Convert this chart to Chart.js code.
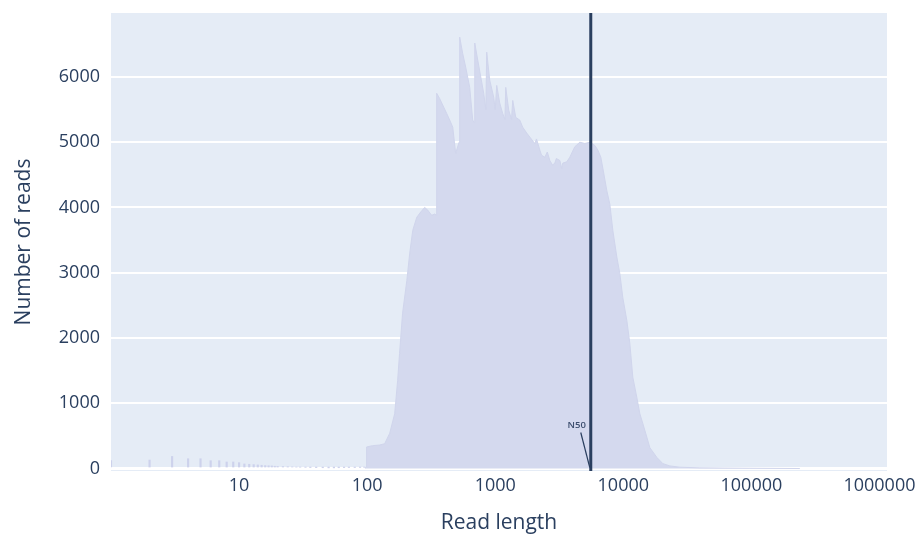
<!DOCTYPE html>
<html>
<head>
<meta charset="utf-8">
<script src="https://cdn.jsdelivr.net/npm/chart.js@4"></script>
<style>
  html, body { margin: 0; padding: 0; background: #fff; }
  #wrap { width: 920px; height: 534px; }
</style>
</head>
<body>
<div id="wrap"><canvas id="readChart" width="920" height="534"></canvas></div>
<script>
// read length histogram
const shortLengths = [1, 2, 3, 4, 5, 6, 7, 8, 9, 10, 11, 12, 13, 14, 15, 16, 17, 18, 19, 20,
  22, 24, 26, 28, 30, 33, 36, 40, 45, 50, 55, 60, 66, 72, 80, 88, 95];
const shortCounts = [120, 130, 185, 150, 150, 120, 120, 100, 100, 90, 70, 65, 60, 55, 50, 45, 42, 40, 35, 32,
  30, 28, 25, 22, 20, 18, 15, 14, 12, 10, 10, 12, 14, 15, 15, 16, 18];

const readLengths = [96, 98.5, 99, 110, 125, 137, 150, 164, 173, 179, 189, 204, 215, 227, 244, 262, 281, 297, 319, 337, 347,
  349, 368, 389, 418, 441, 466, 491, 522, 528, 557, 588, 632, 667, 685, 692, 730, 771, 813, 845, 858, 906, 973,
  1000, 1027, 1084, 1144, 1190, 1208, 1275, 1340, 1370, 1446, 1553, 1639, 1762, 1860, 2036, 2100, 2229, 2300,
  2439, 2550, 2669, 2800, 2921, 3000, 3196, 3300, 3368, 3620, 3820, 4180, 4575, 5006, 5478, 5995, 6325, 6674,
  7042, 7430, 7850, 8280, 8900, 9390, 9910, 10650, 11240, 11860, 12750, 13460, 14200, 15270, 16110, 18280,
  20370, 23080, 27630, 39630, 97300, 239000];
const readCounts = [12, 15, 330, 350, 360, 380, 540, 840, 1350, 1760, 2380, 2880, 3300, 3650, 3850, 3930, 4000, 3960, 3880, 3900, 3880,
  5750, 5670, 5570, 5440, 5340, 5230, 4830, 5000, 6610, 6360, 6150, 5840, 5340, 5300, 6520, 6260, 6000, 5750, 5500, 6380, 5950, 5690,
  5500, 5870, 5600, 5440, 5350, 5840, 5490, 5350, 5640, 5380, 5340, 5230, 5140, 5080, 4980, 5050, 4880, 4800,
  4770, 4850, 4720, 4650, 4680, 4750, 4720, 4600, 4680, 4700, 4770, 4930, 5000, 4980, 5000, 4950, 4880, 4770,
  4520, 4260, 4050, 3650, 3240, 2990, 2620, 2270, 1920, 1400, 1090, 840, 690, 480, 320, 170,
  75, 40, 20, 10, 4, 0];

const n50 = 5570;
const xTicks = [10, 100, 1000, 10000, 100000, 1000000];
const yTicks = [0, 1000, 2000, 3000, 4000, 5000, 6000];

const textColor = "#2a3f5f";

const plotBg = {
  id: "plotBg",
  beforeDraw(chart) {
    const { ctx, chartArea: a } = chart;
    ctx.save();
    ctx.fillStyle = "#E5ECF6";
    ctx.fillRect(a.left, a.top, a.right - a.left, a.bottom - a.top);
    ctx.restore();
  }
};

// vertical N50 marker with its small annotation
const n50Marker = {
  id: "n50Marker",
  afterDatasetsDraw(chart) {
    const { ctx, chartArea: a, scales } = chart;
    const px = scales.x.getPixelForValue(n50);
    const py = scales.y.getPixelForValue(0);
    ctx.save();
    ctx.strokeStyle = "#2a3f5f";
    ctx.lineWidth = 3;
    ctx.beginPath();
    ctx.moveTo(px, a.top);
    ctx.lineTo(px, a.bottom);
    ctx.stroke();

    ctx.lineWidth = 1.2;
    ctx.beginPath();
    ctx.moveTo(px - 10, py - 36);
    ctx.lineTo(px - 1, py - 1);
    ctx.stroke();

    ctx.fillStyle = "#3c4e6e";
    ctx.font = "600 9.5px 'Open Sans'";
    ctx.textAlign = "center";
    ctx.textBaseline = "middle";
    ctx.fillText("N50", px - 14, py - 43);
    ctx.restore();
  }
};

new Chart(document.getElementById("readChart").getContext("2d"), {
  type: "line",
  data: {
    datasets: [
      {
        type: "line",
        data: readLengths.map((x, i) => ({ x, y: readCounts[i] })),
        fill: "origin",
        backgroundColor: "#D4D9EE",
        borderColor: "#D0D5EC",
        borderWidth: 1,
        pointRadius: 0,
        tension: 0
      },
      {
        type: "bar",
        data: shortLengths.map((x, i) => ({ x, y: shortCounts[i] })),
        backgroundColor: "#CDD2EC",
        barThickness: 1.5
      }
    ]
  },
  options: {
    responsive: false,
    animation: false,
    events: [],
    layout: { padding: { left: 0, top: 13, right: 33, bottom: 0 } },
    plugins: { legend: { display: false }, tooltip: { enabled: false } },
    scales: {
      x: {
        type: "logarithmic",
        min: 1,
        max: 1145000,
        offset: false,
        grid: { display: false, drawTicks: false },
        border: { display: false },
        afterBuildTicks: (s) => { s.ticks = xTicks.map((v) => ({ value: v })); },
        afterFit: (s) => { s.height = 63; s.paddingLeft = 0; s.paddingRight = 0; },
        ticks: {
          autoSkip: false,
          maxRotation: 0,
          padding: 4,
          color: textColor,
          font: { family: "'Open Sans'", size: 18 },
          callback: (v) => String(v)
        },
        title: {
          display: true,
          text: "Read length",
          color: textColor,
          font: { family: "'Open Sans'", size: 21, lineHeight: 1 },
          padding: { top: 0, bottom: 0 }
        }
      },
      y: {
        min: -38,
        max: 6980,
        grid: {
          color: "#ffffff",
          lineWidth: (c) => (c.tick && c.tick.value === 0 ? 3 : 2),
          drawTicks: false
        },
        border: { display: false },
        afterBuildTicks: (s) => { s.ticks = yTicks.map((v) => ({ value: v })); },
        afterFit: (s) => { s.width = 111; s.paddingTop = 0; s.paddingBottom = 0; },
        ticks: {
          padding: 11,
          color: textColor,
          font: { family: "'Open Sans'", size: 18 },
          callback: (v) => String(v)
        },
        title: {
          display: true,
          text: "Number of reads",
          color: textColor,
          font: { family: "'Open Sans'", size: 21 },
          padding: { top: 11, bottom: 0 }
        }
      }
    }
  },
  plugins: [plotBg, n50Marker]
});
</script>
</body>
</html>
